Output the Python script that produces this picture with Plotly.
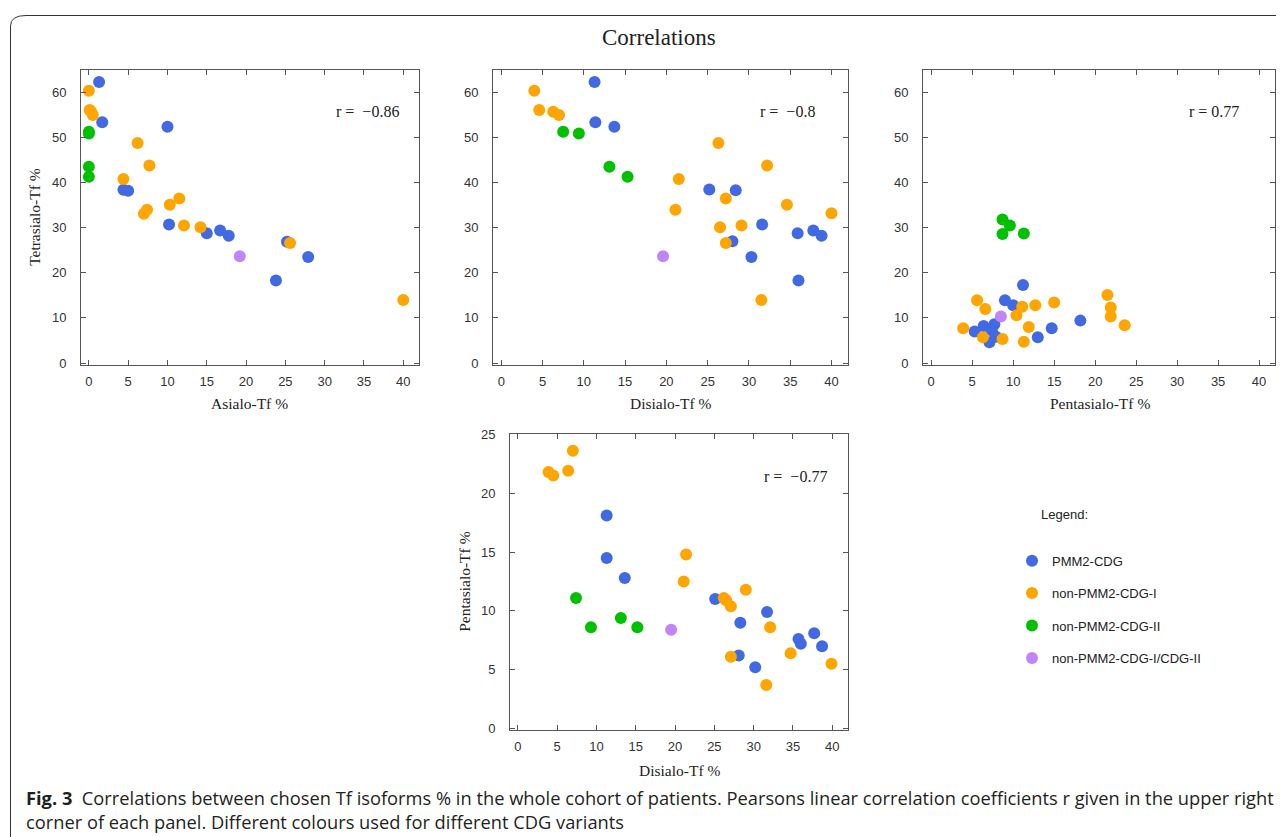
import plotly.graph_objects as go

# Page is 1284x837; the HTML body adds an 8px margin around the figure
PAGE_W = 1284
OFF = 8
FW, FH = PAGE_W - 2 * OFF, 850
# measured vertical mapping of the capture: shown_y = V_A + V_B * page_y
V_A, V_B = 7.2, 0.985

# ---------------- data ----------------
GROUPS = ["PMM2-CDG", "non-PMM2-CDG-I", "non-PMM2-CDG-II", "non-PMM2-CDG-I/CDG-II"]
COLORS = ["#4169E1", "#FFA500", "#00C000", "#C084FC"]

# Panel 1: Asialo-Tf % (x) vs Tetrasialo-Tf % (y)
P1_PMM2_X = [1.3, 1.7, 10.0, 4.4, 5.0, 10.2, 15.0, 16.7, 17.8, 25.2, 27.9, 23.8]
P1_PMM2_Y = [62.3, 53.4, 52.4, 38.4, 38.2, 30.7, 28.8, 29.4, 28.2, 26.9, 23.5, 18.3]
P1_I_X = [0.0, 0.1, 0.3, 0.5, 6.2, 7.7, 4.4, 11.5, 10.3, 7.4, 7.0, 12.1, 14.2, 25.6, 40.0]
P1_I_Y = [60.4, 56.1, 55.7, 55.0, 48.8, 43.8, 40.8, 36.5, 35.1, 34.0, 33.1, 30.5, 30.1, 26.6, 14.0]
P1_II_X = [0.0, 0.0, 0.0, 0.0]
P1_II_Y = [51.3, 50.9, 43.5, 41.3]
P1_MIX_X = [19.2]
P1_MIX_Y = [23.7]

# Panel 2: Disialo-Tf % (x) vs Tetrasialo-Tf % (y)
P2_PMM2_X = [11.3, 11.4, 13.7, 25.2, 28.4, 28.0, 31.6, 30.3, 35.9, 37.8, 38.8, 36.0]
P2_PMM2_Y = [62.3, 53.4, 52.4, 38.5, 38.3, 27.0, 30.7, 23.5, 28.8, 29.4, 28.2, 18.3]
P2_I_X = [4.0, 4.6, 6.3, 7.0, 26.3, 32.2, 21.5, 27.2, 34.6, 21.1, 26.5, 29.1, 27.2, 40.0, 31.5]
P2_I_Y = [60.4, 56.1, 55.7, 55.0, 48.8, 43.8, 40.8, 36.5, 35.1, 34.0, 30.1, 30.5, 26.6, 33.2, 14.0]
P2_II_X = [7.5, 9.4, 13.1, 15.3]
P2_II_Y = [51.3, 50.9, 43.5, 41.3]
P2_MIX_X = [19.6]
P2_MIX_Y = [23.7]

# Panel 3: Pentasialo-Tf % (x)
P3_PMM2_X = [11.2, 9.0, 10.0, 18.2, 7.7, 6.4, 5.3, 7.4, 7.9, 7.1, 13.0, 14.7]
P3_PMM2_Y = [17.3, 13.9, 12.8, 9.4, 8.6, 8.2, 7.0, 7.2, 5.8, 4.6, 5.7, 7.7]
P3_I_X = [5.6, 6.6, 3.9, 6.3, 8.7, 10.4, 11.1, 11.9, 12.7, 15.0, 11.3, 21.5, 21.9, 21.9, 23.6]
P3_I_Y = [13.9, 12.0, 7.7, 5.7, 5.3, 10.6, 12.5, 8.0, 12.8, 13.4, 4.7, 15.1, 12.3, 10.3, 8.4]
P3_II_X = [8.7, 9.6, 8.7, 11.3]
P3_II_Y = [31.8, 30.5, 28.6, 28.7]
P3_MIX_X = [8.5]
P3_MIX_Y = [10.3]

# Panel 4: Disialo-Tf % (x) vs Pentasialo-Tf % (y)
P4_PMM2_X = [11.3, 11.3, 13.6, 25.1, 31.7, 28.3, 28.1, 30.2, 35.7, 36.0, 37.7, 38.7]
P4_PMM2_Y = [18.1, 14.5, 12.8, 11.0, 9.9, 9.0, 6.2, 5.2, 7.6, 7.2, 8.1, 7.0]
P4_I_X = [3.9, 4.5, 6.4, 7.0, 21.4, 21.1, 26.2, 26.5, 27.1, 29.0, 32.1, 27.1, 31.6, 34.7, 39.9]
P4_I_Y = [21.8, 21.5, 21.9, 23.6, 14.8, 12.5, 11.1, 10.9, 10.4, 11.8, 8.6, 6.1, 3.7, 6.4, 5.5]
P4_II_X = [7.4, 9.3, 13.1, 15.2]
P4_II_Y = [11.1, 8.6, 9.4, 8.6]
P4_MIX_X = [19.5]
P4_MIX_Y = [8.4]

R_LABELS = ["r =  \u22120.86", "r =  \u22120.8", "r = 0.77", "r =  \u22120.77"]
X_TITLES = ["Asialo-Tf %", "Disialo-Tf %", "Pentasialo-Tf %", "Disialo-Tf %"]
Y_TITLES = ["Tetrasialo-Tf %", None, None, "Pentasialo-Tf %"]

PANELS = [
    [(P1_PMM2_X, P1_PMM2_Y), (P1_I_X, P1_I_Y), (P1_II_X, P1_II_Y), (P1_MIX_X, P1_MIX_Y)],
    [(P2_PMM2_X, P2_PMM2_Y), (P2_I_X, P2_I_Y), (P2_II_X, P2_II_Y), (P2_MIX_X, P2_MIX_Y)],
    [(P3_PMM2_X, P3_PMM2_Y), (P3_I_X, P3_I_Y), (P3_II_X, P3_II_Y), (P3_MIX_X, P3_MIX_Y)],
    [(P4_PMM2_X, P4_PMM2_Y), (P4_I_X, P4_I_Y), (P4_II_X, P4_II_Y), (P4_MIX_X, P4_MIX_Y)],
]

# ---------------- layout (target pixel boxes: left, right, top, bottom) ----------------
BOXES = [(81, 419, 70, 365), (493, 848, 70, 365), (923, 1278, 70, 365), (510, 848, 434, 730)]
Y_RANGES = [[-0.4, 65], [-0.4, 65], [-0.4, 65], [-0.1, 25.05]]
Y_DTICK = [10, 10, 10, 5]


def px(x):
    return min(max((x - OFF) / FW, 0.0), 0.9996)


def py(y):
    page_y = (y - V_A) / V_B
    return min(max(1 - (page_y - OFF) / FH, 0.0), 1.0)


SERIF = "Liberation Serif"
SANS = "Liberation Sans"
AXC = "#555555"

fig = go.Figure()

for p, data in enumerate(PANELS):
    sfx = "" if p == 0 else str(p + 1)
    for g, (xs, ys) in enumerate(data):
        fig.add_trace(go.Scatter(
            x=xs, y=ys, mode="markers",
            xaxis="x" + sfx, yaxis="y" + sfx,
            name=GROUPS[g], legendgroup=GROUPS[g],
            showlegend=(p == 3),
            marker=dict(color=COLORS[g], size=12, line=dict(width=0)),
            hoverinfo="skip",
        ))
    l, r, t, b = BOXES[p]
    common = dict(showline=True, linecolor=AXC, linewidth=1, mirror="ticks",
                  ticks="inside", ticklen=5, tickcolor=AXC, tickwidth=1,
                  showgrid=False, zeroline=False,
                  tickfont=dict(family=SANS, size=13, color="#333333"),
                  fixedrange=True)
    fig.layout["xaxis" + sfx] = dict(common, domain=[px(l), px(r)], range=[-1, 42],
                                     dtick=5, tick0=0, anchor="y" + sfx, ticklabelstandoff=5)
    fig.layout["yaxis" + sfx] = dict(common, domain=[py(b), py(t)], range=Y_RANGES[p],
                                     dtick=Y_DTICK[p], tick0=0, anchor="x" + sfx,
                                     ticklabelstandoff=11)

annotations = []
R_POS = [(367, 112), (788, 112), (1214, 112), (795, 477)]
for p, (ax, ay) in enumerate(R_POS):
    annotations.append(dict(text=R_LABELS[p], x=px(ax), y=py(ay), xref="paper", yref="paper",
                            showarrow=False, xanchor="center", yanchor="middle",
                            font=dict(family=SERIF, size=16, color="#222222")))
XT_POS = [(249, 404), (670, 404), (1100, 404), (679, 771)]
for p, (ax, ay) in enumerate(XT_POS):
    annotations.append(dict(text=X_TITLES[p], x=px(ax), y=py(ay), xref="paper", yref="paper",
                            showarrow=False, xanchor="center", yanchor="middle",
                            font=dict(family=SERIF, size=15.5, color="#222222")))
YT_POS = {0: (35, 217), 3: (465, 582)}
for p, (ax, ay) in YT_POS.items():
    annotations.append(dict(text=Y_TITLES[p], x=px(ax), y=py(ay), xref="paper", yref="paper",
                            showarrow=False, xanchor="center", yanchor="middle", textangle=-90,
                            font=dict(family=SERIF, size=15.5, color="#222222")))
annotations.append(dict(text="Correlations", x=px(659), y=py(38), xref="paper", yref="paper",
                        showarrow=False, xanchor="center", yanchor="middle",
                        font=dict(family=SERIF, size=23, color="#222222")))
annotations.append(dict(text="Legend:", x=px(1039), y=py(515), xref="paper", yref="paper",
                        showarrow=False, xanchor="left", yanchor="middle",
                        font=dict(family=SANS, size=13, color="#222222")))
CAP_FONT = dict(family="Open Sans", size=18.3, color="#231f20")
annotations.append(dict(
    text="<b>Fig. 3</b>  Correlations between chosen Tf isoforms % in the whole cohort of patients. "
         "Pearsons linear correlation coefficients r given in the upper right",
    x=px(24), y=py(798), xref="paper", yref="paper", showarrow=False,
    xanchor="left", yanchor="middle", font=CAP_FONT))
annotations.append(dict(
    text="corner of each panel. Different colours used for different CDG variants",
    x=px(24), y=py(822), xref="paper", yref="paper", showarrow=False,
    xanchor="left", yanchor="middle", font=CAP_FONT))

top = min(py(11), 0.9994)
shapes = [dict(type="path", xref="paper", yref="paper",
               path=f"M {px(10.5)},{py(845)} L {px(10.5)},{py(26)} Q {px(10.5)},{top} {px(26)},{top} L 1,{top}",
               line=dict(color="#333333", width=1))]

fig.update_layout(
    width=FW, height=FH, autosize=False,
    margin=dict(l=0, r=0, t=0, b=0),
    paper_bgcolor="white", plot_bgcolor="white",
    annotations=annotations, shapes=shapes,
    legend=dict(x=px(1012), y=py(546), xanchor="left", yanchor="top",
                font=dict(family=SANS, size=13, color="#222222"),
                tracegroupgap=12.5, itemsizing="constant", bgcolor="rgba(0,0,0,0)"),
)

fig.write_html("out.html", config={"displayModeBar": False})
